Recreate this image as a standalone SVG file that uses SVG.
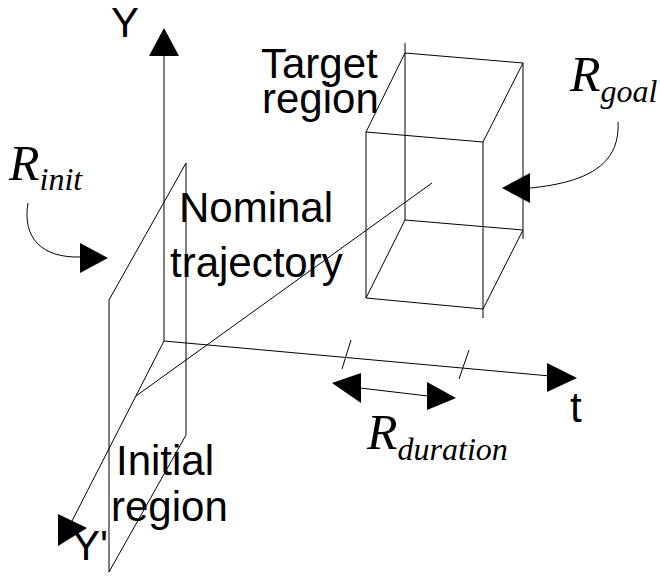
<svg xmlns="http://www.w3.org/2000/svg" width="660" height="579" viewBox="0 0 660 579">
<style>
.ln{stroke:#000;stroke-width:1;fill:none}
.ah{fill:#000;stroke:none}
.lbl{font-family:"Liberation Sans",Arial,sans-serif;font-size:42px;fill:#000}
.r{font-family:"Liberation Serif","Times New Roman",serif;font-style:italic;fill:#000}
.rb{font-size:50px}
.rs{font-size:32px}
</style>
<rect width="660" height="579" fill="#fff"/>
<g id="connectors">
<line class="ln" x1="164" y1="341" x2="164" y2="54"/>
<line class="ln" x1="164" y1="341" x2="550" y2="376"/>
<line class="ln" x1="164" y1="341" x2="72" y2="521"/>
<line class="ln" x1="351" y1="340" x2="342" y2="369"/>
<line class="ln" x1="469" y1="350" x2="459" y2="379"/>
<line class="ln" x1="136" y1="396" x2="432" y2="183"/>
<line class="ln" x1="360" y1="388" x2="428" y2="396"/>
<path class="ln" d="M28,203 C22,238 42,258 80,257"/>
<path class="ln" d="M618,122 C620,162 592,182 530,188"/>
</g>
<g id="arrowheads">
<polygon class="ah" points="164,28 149,56 179,56"/>
<polygon class="ah" points="577,378 547,363 547,392"/>
<polygon class="ah" points="58,546 58,514 87,528"/>
<polygon class="ah" points="332,383 361,373 361,403"/>
<polygon class="ah" points="456,398 427,382 427,410"/>
<polygon class="ah" points="108,258 80,243 80,273"/>
<polygon class="ah" points="502,188 530,173 530,203"/>
</g>
<g id="initial-region">
<polyline class="ln" points="186,163 109,300 109,572 186,435 186,163"/>
</g>
<g id="target-region">
<polyline class="ln" points="405,43 405,220 523,230"/>
<polyline class="ln" points="405,53 523,63 523,239"/>
<polygon class="ln" points="366,132 483,142 483,309 366,298"/>
<line class="ln" x1="483" y1="309" x2="483" y2="318"/>
<line class="ln" x1="366" y1="132" x2="405" y2="53"/>
<line class="ln" x1="483" y1="142" x2="523" y2="63"/>
<line class="ln" x1="366" y1="298" x2="405" y2="220"/>
<line class="ln" x1="483" y1="309" x2="523" y2="230"/>
</g>
<g id="labels">
<text class="lbl" x="111" y="37">Y</text>
<text class="lbl" x="570" y="422">t</text>
<text class="lbl" x="72" y="560">Y'</text>
<text class="lbl" x="261" y="78">Target</text>
<text class="lbl" x="262" y="113">region</text>
<text class="lbl" x="179" y="222">Nominal</text>
<text class="lbl" x="170" y="277">trajectory</text>
<text class="lbl" x="116" y="475">Initial</text>
<text class="lbl" x="111" y="521">region</text>
<text class="r" x="9" y="180"><tspan class="rb">R</tspan><tspan class="rs" dy="10">init</tspan></text>
<text class="r" x="570" y="91"><tspan class="rb">R</tspan><tspan class="rs" dy="11">goal</tspan></text>
<text class="r" x="367" y="449"><tspan class="rb">R</tspan><tspan class="rs" dy="11">duration</tspan></text>
</g>
</svg>
